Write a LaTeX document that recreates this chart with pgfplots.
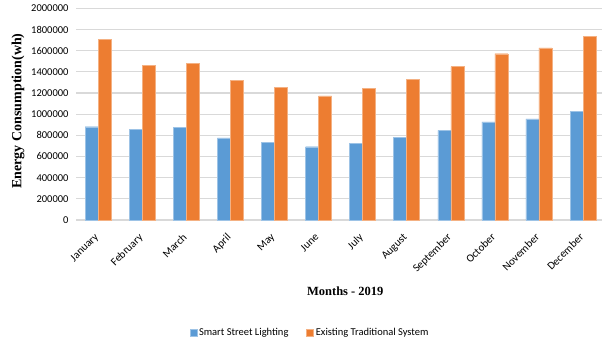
\documentclass[border=0pt]{standalone}
\usepackage{fontspec}
\setmainfont{Liberation Serif}
\newfontfamily\calibri{Carlito}
\usepackage{pgfplots}
\pgfplotsset{compat=1.18}

\definecolor{smartblue}{HTML}{5B9BD5}
\definecolor{tradorange}{HTML}{ED7D31}
\definecolor{gridgray}{HTML}{D9D9D9}

\begin{document}
\begin{tikzpicture}[x=1pt,y=1pt]
\begin{axis}[
  at={(76pt,119pt)}, anchor=south west,
  scale only axis,
  width=526pt, height=211.7pt,
  ybar=0pt, bar width=13pt,
  xmin=-0.5, xmax=11.43,
  ymin=0, ymax=2000000,
  ytick={0,200000,...,2000000},
  scaled y ticks=false,
  yticklabel style={/pgf/number format/fixed, /pgf/number format/1000 sep={},
    /pgf/number format/assume math mode=true, font=\calibri\fontsize{10.5}{12}\selectfont,
    xshift=-4pt},
  xtick={0,...,11},
  xticklabels={January,February,March,April,May,June,July,August,September,October,November,December},
  xticklabel style={rotate=45, anchor=north east, font=\calibri\fontsize{11}{13}\selectfont,
    xshift=-8.5pt, yshift=-2.5pt},
  major tick length=0pt,
  axis line style={draw=none},
  ymajorgrids, grid style={gridgray, line width=1.2pt},
  xlabel={\fontsize{12.5}{14}\selectfont\bfseries Months - 2019},
  xlabel style={at={(axis description cs:0.512,0)}, anchor=north, yshift=-63pt},
  ylabel={\fontsize{14}{16}\selectfont\bfseries Energy Consumption(wh)},
  ylabel style={at={(axis description cs:-0.11,0.515)}, anchor=center, rotate=0},
  legend style={at={(axis description cs:0.445,0)}, anchor=north, yshift=-104pt,
    draw=none, font=\calibri\fontsize{10.5}{12}\selectfont,
    legend columns=2, /tikz/every even column/.append style={column sep=16pt}},
  legend image code/.code={\fill[#1] (0pt,-3.5pt) rectangle (7pt,3.5pt);},
  clip=false,
]
\addplot[fill=smartblue, draw=smartblue!60!white, line width=0.4pt] coordinates {
  (0,881000) (1,856000) (2,872000) (3,776000) (4,735000) (5,692000)
  (6,725000) (7,780000) (8,846000) (9,928000) (10,956000) (11,1024000)};
\addplot[fill=tradorange, draw=tradorange!60!white, line width=0.4pt] coordinates {
  (0,1706000) (1,1458000) (2,1477000) (3,1318000) (4,1253000) (5,1172000)
  (6,1245000) (7,1328000) (8,1450000) (9,1571000) (10,1625000) (11,1735000)};
\legend{Smart Street Lighting, Existing Traditional System}
\end{axis}
\pgfresetboundingbox
\path[use as bounding box] (0pt,0pt) rectangle (602pt,339pt);
\end{tikzpicture}
\end{document}
